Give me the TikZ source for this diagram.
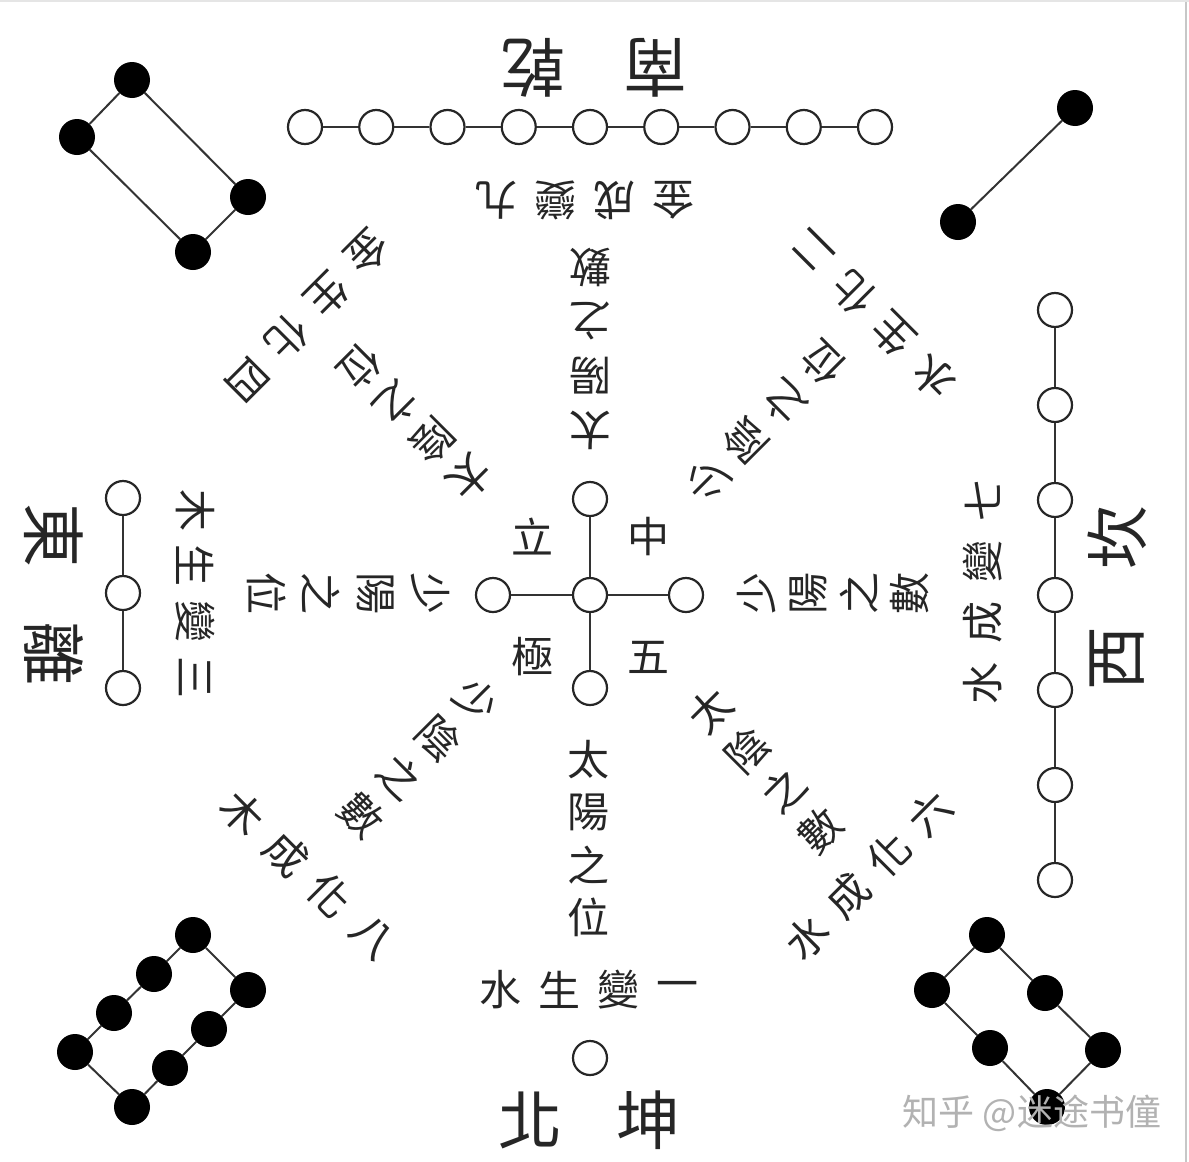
\documentclass[tikz,border=0pt]{standalone}
\usepackage{fontspec}
\newfontfamily\cjk{Noto Sans CJK TC}
\newfontfamily\cjksc{Noto Sans CJK SC}
% place a run of characters: name, style, x0, y0, dx, dy, rotation, list of characters
\newcommand\placechars[8]{%
  \foreach \ch [count=\n from 0] in {#8} {%
    \node[#2, rotate=#7] (#1-\n) at ({#3+\n*(#5)},{#4+\n*(#6)}) {\ch};
  }%
}
\tikzset{
  wdot/.style={circle, draw=black!85, line width=2.2pt, fill=white, minimum size=34pt, inner sep=0pt},
  bdot/.style={circle, fill=black, minimum size=36pt, inner sep=0pt},
  link/.style={draw=black!80, line width=2pt},
  lab/.style={font=\cjk\fontsize{42}{54}\selectfont, text=black!85, inner sep=0pt},
  biglab/.style={font=\cjk\fontsize{64}{70}\selectfont, text=black!85, inner sep=0pt},
  wmark/.style={font=\cjksc\fontsize{36}{40}\selectfont, text=black!30, inner sep=0pt},
}
\begin{document}
\begin{tikzpicture}[x=1pt,y=1pt]
\useasboundingbox (0,0) rectangle (1189,-1162);
\fill[white] (0,0) rectangle (1189,-1162);
\draw[black!22, line width=2pt] (1186,0) -- (1186,-1162);
\draw[black!10, line width=2pt] (0,-1) -- (1189,-1);

% ---- top row: nine white dots
\foreach \i in {0,...,8} { \node[wdot] (n\i) at ({305+71.25*\i},-127) {}; }
\foreach \i in {1,...,8} { \pgfmathtruncatemacro\prv{\i-1} \draw[link] (n\prv) -- (n\i); }

% ---- right column: seven white dots
\foreach \i in {0,...,6} { \node[wdot] (e\i) at (1055,{-(310+95*\i)}) {}; }
\foreach \i in {1,...,6} { \pgfmathtruncatemacro\prv{\i-1} \draw[link] (e\prv) -- (e\i); }

% ---- left column: three white dots
\node[wdot] (w0) at (123,-498) {};
\node[wdot] (w1) at (123,-593) {};
\node[wdot] (w2) at (123,-688) {};
\draw[link] (w0) -- (w1);
\draw[link] (w1) -- (w2);

% ---- centre cross: five white dots
\node[wdot] (cc) at (590,-595) {};
\node[wdot] (cn) at (590,-499) {};
\node[wdot] (cs) at (590,-688) {};
\node[wdot] (cw) at (493,-595) {};
\node[wdot] (ce) at (686,-595) {};
\draw[link] (cc) -- (cn);
\draw[link] (cc) -- (cs);
\draw[link] (cc) -- (cw);
\draw[link] (cc) -- (ce);

% ---- bottom: one white dot
\node[wdot] (s1) at (590,-1058) {};

% ---- top-right: two black dots
\node[bdot] (k1) at (1075,-108) {};
\node[bdot] (k2) at (958,-222) {};
\draw[link] (k1) -- (k2);

% ---- top-left: four black dots
\node[bdot] (f1) at (132,-80) {};
\node[bdot] (f2) at (77,-137) {};
\node[bdot] (f3) at (193,-252) {};
\node[bdot] (f4) at (248,-197) {};
\draw[link] (f1) -- (f2) -- (f3) -- (f4) -- (f1);

% ---- bottom-left: eight black dots
\node[bdot] (g1) at (193,-935) {};
\node[bdot] (g2) at (154,-974) {};
\node[bdot] (g3) at (114,-1013) {};
\node[bdot] (g4) at (75,-1052) {};
\node[bdot] (g5) at (132,-1107) {};
\node[bdot] (g6) at (170,-1068) {};
\node[bdot] (g7) at (209,-1029) {};
\node[bdot] (g8) at (248,-990) {};
\draw[link] (g1) -- (g2) -- (g3) -- (g4) -- (g5) -- (g6) -- (g7) -- (g8) -- (g1);

% ---- bottom-right: six black dots
\node[bdot] (h1) at (987,-935) {};
\node[bdot] (h2) at (932,-990) {};
\node[bdot] (h3) at (990,-1048) {};
\node[bdot] (h4) at (1047,-1107) {};
\node[bdot] (h5) at (1103,-1050) {};
\node[bdot] (h6) at (1045,-993) {};
\draw[link] (h1) -- (h2) -- (h3) -- (h4) -- (h5) -- (h6) -- (h1);

% ---- centre labels
\node[lab] (l1) at (532,-537) {立};
\node[lab] (l2) at (648,-537) {中};
\node[lab] (l3) at (532,-657) {極};
\node[lab] (l4) at (648,-657) {五};

% ---- south
\placechars{sa}{lab}{588}{-760}{0}{-52.3}{0}{太,陽,之,位}
\placechars{sb}{lab}{500}{-990}{59}{0}{0}{水,生,變,一}
\placechars{sc}{biglab}{530}{-1120}{118}{0}{0}{北,坤}

% ---- north
\placechars{na}{lab}{590}{-430}{0}{54.3}{180}{太,陽,之,數}
\placechars{nb}{lab}{673}{-200}{-58.7}{0}{180}{金,成,變,九}
\placechars{nc}{biglab}{655}{-68}{-122}{0}{180}{南,乾}

% ---- east (left)
\placechars{ea}{lab}{430}{-593}{-54.3}{0}{-90}{少,陽,之,位}
\placechars{eb}{lab}{195}{-510}{0}{-55.7}{-90}{木,生,變,三}
\placechars{ec}{biglab}{54}{-535}{0}{-118}{-90}{東,離}

% ---- west (right)
\placechars{wa}{lab}{757}{-593}{51}{0}{90}{少,陽,之,數}
\placechars{wb}{lab}{983}{-683}{0}{61}{90}{水,成,變,七}
\placechars{wc}{biglab}{1117}{-658}{0}{121}{90}{西,坎}

% ---- north-east / north-west / south-west / south-east
\placechars{qa}{lab}{470}{-478}{-36.7}{37}{-135}{太,陰,之,位}
\placechars{qb}{lab}{367}{-252}{-40}{-42.7}{-135}{金,生,化,四}
\placechars{ra}{lab}{707}{-480}{38.7}{39}{135}{少,陰,之,位}
\placechars{rb}{lab}{933}{-377}{-40}{42.3}{135}{水,生,化,二}
\placechars{ua}{lab}{477}{-700}{-38.3}{-38.3}{-45}{少,陰,之,數}
\placechars{ub}{lab}{243}{-813}{43.3}{-41.3}{-45}{木,成,化,八}
\placechars{va}{lab}{710}{-710}{36.7}{-40}{45}{太,陰,之,數}
\placechars{vb}{lab}{807}{-937}{41}{41.3}{45}{水,成,化,六}

% ---- watermark
\node[wmark] (wm) at (1032,-1113) {知乎 @迷途书僮};
\end{tikzpicture}
\end{document}
